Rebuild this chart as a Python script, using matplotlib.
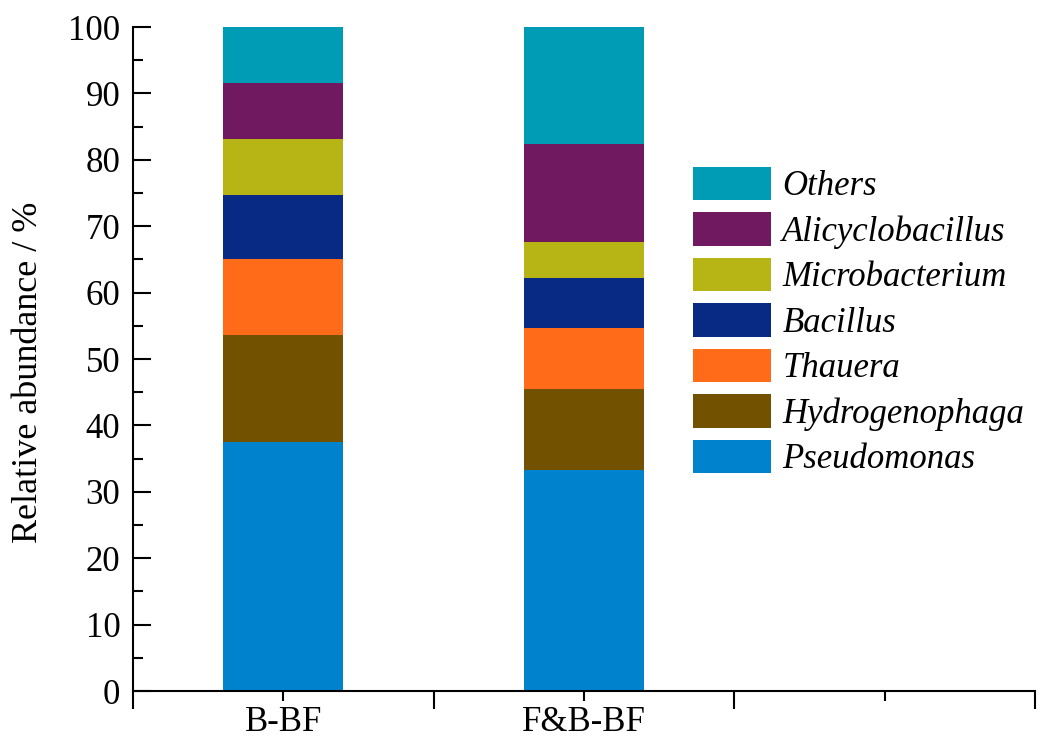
import matplotlib.pyplot as plt
from matplotlib.ticker import MultipleLocator, FixedLocator, NullFormatter

samples = ['B-BF', 'F&B-BF']
genera = ['Pseudomonas', 'Hydrogenophaga', 'Thauera', 'Bacillus',
          'Microbacterium', 'Alicyclobacillus', 'Others']
abund = {
    'Pseudomonas':      [37.5, 33.3],
    'Hydrogenophaga':   [16.1, 12.2],
    'Thauera':          [11.4, 9.1],
    'Bacillus':         [9.7, 7.6],
    'Microbacterium':   [8.5, 5.4],
    'Alicyclobacillus': [8.4, 14.8],
    'Others':           [8.4, 17.6],
}
colors = ['#0083CC', '#725100', '#FF6B18', '#082A85',
          '#B7B416', '#711960', '#009CB6']

plt.rcParams['font.family'] = ['Liberation Serif', 'DejaVu Serif']
fs = 25

fig = plt.figure(figsize=(10.38, 7.4), dpi=100)
ax = fig.add_axes([0.128, 0.0662, 0.869, 0.8973])

x = [1, 2]
bottom = [0, 0]
handles = []
for g, c in zip(genera, colors):
    b = ax.bar(x, abund[g], 0.4, bottom=bottom, color=c, label=g, linewidth=0)
    handles.append(b)
    bottom = [bo + v for bo, v in zip(bottom, abund[g])]

ax.set_xlim(0.5, 3.5)
ax.set_ylim(0, 100)
for s in ['top', 'right']:
    ax.spines[s].set_visible(False)
for s in ['left', 'bottom']:
    ax.spines[s].set_linewidth(1.5)

ax.yaxis.set_major_locator(MultipleLocator(10))
ax.yaxis.set_minor_locator(MultipleLocator(5))
ax.tick_params(axis='y', which='major', direction='in', length=13, width=1.5,
               labelsize=fs, pad=9)
ax.tick_params(axis='y', which='minor', direction='in', length=7, width=1.5)

ax.xaxis.set_major_locator(FixedLocator([0.5, 1.5, 2.5, 3.5]))
ax.xaxis.set_major_formatter(NullFormatter())
ax.xaxis.set_minor_locator(FixedLocator([1, 2, 3]))
ax.set_xticklabels(['B-BF', 'F&B-BF', ''], minor=True)
ax.tick_params(axis='x', which='major', direction='out', length=13, width=1.5)
ax.tick_params(axis='x', which='minor', direction='out', length=7, width=1.5,
               labelsize=fs, pad=4)

ax.set_ylabel('Relative abundance / %', fontsize=26)
ax.yaxis.set_label_coords(-0.097, 0.48)

leg = fig.legend(handles[::-1], genera[::-1], loc='upper left',
                 bbox_to_anchor=(693 / 1038, 1 - 167 / 740), frameon=False,
                 prop={'style': 'italic', 'size': fs}, handlelength=2.25,
                 handleheight=1.1, labelspacing=0.26, handletextpad=0.32,
                 borderpad=0, borderaxespad=0)

fig.savefig('out.png', dpi=100)
